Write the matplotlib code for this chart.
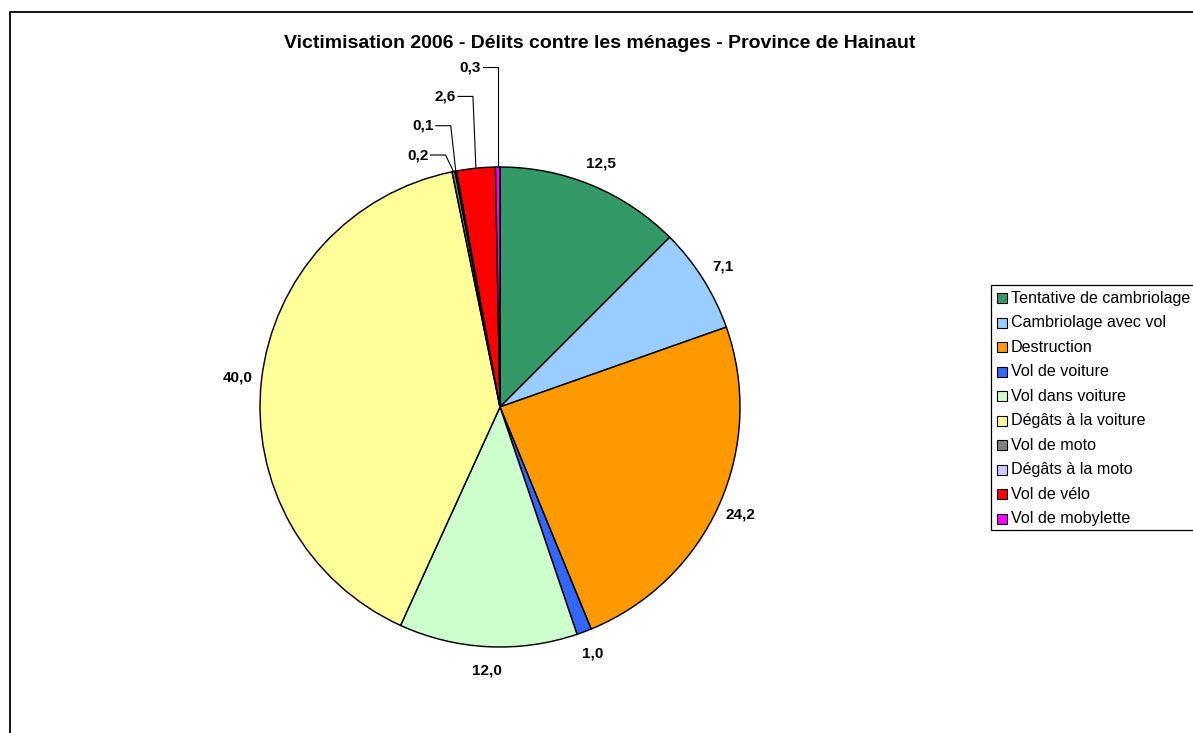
import numpy as np
import matplotlib
matplotlib.use("Agg")
import matplotlib.pyplot as plt
from matplotlib.patches import Rectangle

plt.rcParams['font.family'] = ['Liberation Sans', 'DejaVu Sans']

# --- donnees ---
title = "Victimisation 2006 - Délits contre les ménages - Province de Hainaut"
categories = ["Tentative de cambriolage", "Cambriolage avec vol", "Destruction",
              "Vol de voiture", "Vol dans voiture", "Dégâts à la voiture",
              "Vol de moto", "Dégâts à la moto", "Vol de vélo", "Vol de mobylette"]
values = [12.5, 7.1, 24.2, 1.0, 12.0, 40.0, 0.2, 0.1, 2.6, 0.3]
colors = ["#339966", "#99CCFF", "#FF9900", "#3366FF", "#CCFFCC",
          "#FFFF99", "#808080", "#CCCCFF", "#FF0000", "#FF00FF"]

# --- mise en page (pixels) ---
W, H = 1193, 733
CX, CY, R = 500, 407, 240


def py(y):
    # conversion pixel (haut->bas) vers coordonnees de l'axe
    return H - y


fig = plt.figure(figsize=(W / 100, H / 100), dpi=100)
ax = fig.add_axes([0, 0, 1, 1])
wedges, _ = ax.pie(values, colors=colors, startangle=90, counterclock=False,
                   center=(CX, py(CY)), radius=R,
                   wedgeprops=dict(edgecolor="black", linewidth=1.05))
ax.set_xlim(0, W)
ax.set_ylim(0, H)
ax.set_aspect("equal")
ax.axis("off")

# cadre du graphique (gauche + haut)
ax.plot([10, 10, W + 5], [py(H + 5), py(12), py(12)], color="black",
        linewidth=1.3, clip_on=False)

ax.text(600, py(44), title, ha="center", va="center", fontsize=14, fontweight="bold")

# etiquettes de donnees
label_fmt = lambda v: f"{v:.1f}".replace(".", ",")
small = []
for i, (w, v) in enumerate(zip(wedges, values)):
    theta = np.deg2rad((w.theta1 + w.theta2) / 2)
    if abs(np.rad2deg(theta) % 360 - 90) < 20 and v < 5:
        small.append((i, theta, v))
        continue
    x = CX + 1.098 * R * np.cos(theta)
    y = py(CY) + 1.098 * R * np.sin(theta)
    ax.text(x, y, label_fmt(v), ha="center", va="center", fontsize=11, fontweight="bold")

# petites parts : etiquettes empilees avec lignes de rappel
small.sort(key=lambda s: np.cos(s[1]))
leader_shift = [8, 5, 3, 0]
for k, (i, theta, v) in enumerate(small):
    ex = CX + R * np.cos(theta)
    ey = py(CY) + R * np.sin(theta)
    ly = py(155 - 29.3 * k)
    elbow = ex - leader_shift[k]
    ax.plot([elbow - 15, elbow, ex], [ly, ly, ey], color="black", linewidth=0.8)
    ax.text(elbow - 17, ly, label_fmt(v), ha="right", va="center",
            fontsize=11, fontweight="bold")

# legende
ax.add_patch(Rectangle((991, py(530)), 260, 245, facecolor="white",
                       edgecolor="black", linewidth=0.9, clip_on=True))
for j, (cat, col) in enumerate(zip(categories, colors)):
    yc = py(298 + 24.55 * j)
    ax.add_patch(Rectangle((997, yc - 5), 10, 10, facecolor=col,
                           edgecolor="black", linewidth=0.8))
    ax.text(1011, yc, cat, ha="left", va="center", fontsize=11.6)

fig.savefig("out.png", dpi=100)
